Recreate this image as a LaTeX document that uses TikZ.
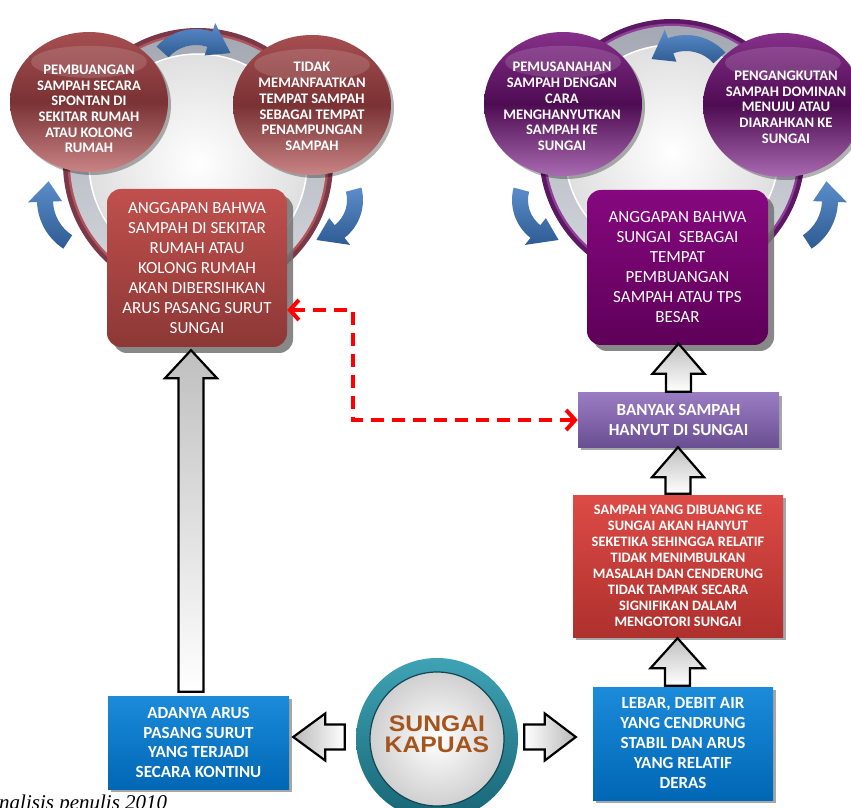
\documentclass[tikz,border=0pt]{standalone}
\usepackage{fontspec}
\newfontfamily\carl{Carlito}
\newfontfamily\arialf{Liberation Sans}
\newfontfamily\timesf{Liberation Serif}
\usetikzlibrary{shapes.geometric,arrows.meta,shadows,calc}
\definecolor{mAtop}{HTML}{A64E50}
\definecolor{mAmid}{HTML}{7A3234}
\definecolor{mAbot}{HTML}{C98486}
\definecolor{pBtop}{HTML}{86308A}
\definecolor{pBmid}{HTML}{4E0C52}
\definecolor{pBbot}{HTML}{A86AB0}
\definecolor{lboxTop}{HTML}{C0504D}
\definecolor{lboxBot}{HTML}{8C3836}
\definecolor{rboxTop}{HTML}{86087F}
\definecolor{rboxBot}{HTML}{5E0059}
\definecolor{banTop}{HTML}{9A7CC2}
\definecolor{banBot}{HTML}{6A4E92}
\definecolor{redTop}{HTML}{DD4B46}
\definecolor{redBot}{HTML}{AE302D}
\definecolor{bluTop}{HTML}{1B8BDA}
\definecolor{bluBot}{HTML}{0067B5}
\definecolor{ringA}{HTML}{7A3848}
\definecolor{ringAs}{HTML}{B0545A}
\definecolor{ringB}{HTML}{5C1862}
\definecolor{ringBs}{HTML}{8E3E96}
\definecolor{bandTop}{HTML}{A3A8B2}
\definecolor{bandBot}{HTML}{D6D8DE}
\definecolor{arrTop}{HTML}{5B8DCA}
\definecolor{arrBot}{HTML}{2E5B92}
\definecolor{tealTop}{HTML}{3FA3B5}
\definecolor{tealBot}{HTML}{176575}
\definecolor{kapuas}{HTML}{A5541C}
\definecolor{dashred}{HTML}{FF0000}

\newcommand{\curvarrow}[8]{%
 \pgfmathsetmacro\crOut{#3+#7/2}\pgfmathsetmacro\crIn{#3-#7/2}%
 \pgfmathsetmacro\chOut{#3+#8/2}\pgfmathsetmacro\chIn{#3-#8/2}%
 \begin{scope}[shift={(#1,#2)}]
 \shade[carrowsty] (#4:\crOut pt) arc[start angle=#4, end angle=#5, radius=\crOut pt]
   -- (#5:\chOut pt) -- (#6:#3pt) -- (#5:\chIn pt) -- (#5:\crIn pt)
   arc[start angle=#5, end angle=#4, radius=\crIn pt] -- cycle;
 \end{scope}}

\newcommand{\blockup}[7]{%
 \shadedraw[garrowv] let \p1=([xshift=#3]#1.north), \p2=([xshift=#3]#2.south) in
 ({\x1-12.5pt},{\y1+#4}) -- ({\x1+12.5pt},{\y1+#4}) -- ({\x1+12.5pt},{\y2-#5-#6})
 -- ({\x1+#7},{\y2-#5-#6}) -- (\x1,{\y2-#5}) -- ({\x1-#7},{\y2-#5-#6})
 -- ({\x1-12.5pt},{\y2-#5-#6}) -- cycle;}

\begin{document}
\begin{tikzpicture}[x=1pt,y=1pt,
 carrowsty/.style={top color=arrTop, bottom color=arrBot},
 garrowv/.style={top color=gray!50, bottom color=white, draw=black, line width=2.2pt, line join=miter},
 garrowl/.style={left color=gray!55, right color=white, draw=black, line width=2.2pt, line join=miter},
 garrowr/.style={left color=white, right color=gray!55, draw=black, line width=2.2pt, line join=miter},
 circA/.style={ellipse, minimum width=158pt, minimum height=140pt, inner sep=0pt,
   top color=mAtop, bottom color=mAbot, middle color=mAmid,
   drop shadow={shadow xshift=3pt,shadow yshift=-3pt,fill=black,opacity=.3}},
 circB/.style={ellipse, minimum width=158pt, minimum height=144pt, inner sep=0pt,
   top color=pBtop, bottom color=pBbot, middle color=pBmid,
   drop shadow={shadow xshift=3pt,shadow yshift=-3pt,fill=black,opacity=.3}},
 ctext/.style={text=white, align=center, inner sep=0pt, font=\carl\bfseries\fontsize{14.6}{15.7}\selectfont},
 bigbox/.style={rounded corners=14pt, minimum width=180pt, minimum height=156pt, inner sep=0pt,
   drop shadow={shadow xshift=6pt,shadow yshift=-6pt,fill=gray!90!black,opacity=.85},
   text=white, align=center, font=\carl\fontsize{17}{20}\selectfont},
 flatbox/.style={inner sep=0pt, text=white, align=center,
   drop shadow={shadow xshift=3pt,shadow yshift=-3pt,fill=black,opacity=.35}},
 dashconn/.style={dashred, line width=4pt, dash pattern=on 13pt off 8pt,
   {Straight Barb[length=9pt,width=20pt]}-{Straight Barb[length=9pt,width=20pt]}},
 gloss/.style={white, opacity=.14}
]
\useasboundingbox (0,0) rectangle (851,807);

% ---- left ring
\begin{scope}[shift={(198,644)}]
 \fill[ringA] (0,0) circle (135pt);
 \fill[ringAs] (0,0) circle (130.5pt);
 \shade[top color=bandTop, bottom color=bandBot] (0,0) circle (128pt);
 \shade[inner color=white, outer color=gray!25] (0,0) circle (109pt);
 \draw[white, line width=1.5pt] (0,0) circle (109pt);
\end{scope}
% ---- right ring
\begin{scope}[shift={(672,655)}]
 \fill[ringB] (0,0) circle (133pt);
 \fill[ringBs] (0,0) circle (128.5pt);
 \shade[top color=bandTop, bottom color=bandBot] (0,0) circle (126pt);
 \shade[inner color=white, outer color=gray!25] (0,0) circle (107pt);
 \draw[white, line width=1.5pt] (0,0) circle (107pt);
\end{scope}

% ---- curved arrows
\curvarrow{196}{725}{45}{138}{72}{40}{16}{34}
\curvarrow{95}{607}{50}{237}{182}{158}{16}{34}
\curvarrow{315}{607}{40}{15}{-52}{-88}{16}{34}
\curvarrow{686}{719}{45}{42}{110}{140}{16}{34}
\curvarrow{560}{607}{40}{165}{232}{268}{16}{34}
\curvarrow{780}{607}{50}{303}{358}{22}{16}{34}

% ---- circles
\node[circA] (A1) at (89,705) {};
\node[circA] (A2) at (312,702) {};
\node[circB] (B1) at (563,703) {};
\node[circB, minimum width=160pt] (B2) at (783,702) {};
\fill[gloss] ([yshift=-30pt]A1.north) ellipse [x radius=58pt, y radius=16pt];
\fill[gloss] ([yshift=-30pt]A2.north) ellipse [x radius=58pt, y radius=16pt];
\fill[gloss] ([yshift=-30pt]B1.north) ellipse [x radius=58pt, y radius=16pt];
\fill[gloss] ([yshift=-30pt]B2.north) ellipse [x radius=58pt, y radius=16pt];
\node[ctext] (A1t) at (89,698) {PEMBUANGAN\\SAMPAH SECARA\\SPONTAN DI\\SEKITAR RUMAH\\ATAU KOLONG\\RUMAH};
\node[ctext] (A2t) at (312,700.5) {TIDAK\\MEMANFAATKAN\\TEMPAT SAMPAH\\SEBAGAI TEMPAT\\PENAMPUNGAN\\SAMPAH};
\node[ctext] (B1t) at (562,700.5) {PEMUSANAHAN\\SAMPAH DENGAN\\CARA\\MENGHANYUTKAN\\SAMPAH KE\\SUNGAI};
\node[ctext] (B2t) at (786,700) {PENGANGKUTAN\\SAMPAH DOMINAN\\MENUJU ATAU\\DIARAHKAN KE\\SUNGAI};

% ---- big boxes
\node[bigbox, minimum height=158pt, top color=lboxTop, bottom color=lboxBot] (lbox) at (197,539)
 {ANGGAPAN BAHWA\\SAMPAH DI SEKITAR\\RUMAH ATAU\\KOLONG RUMAH\\AKAN DIBERSIHKAN\\ARUS PASANG SURUT\\SUNGAI};
\node[bigbox, minimum width=181pt, minimum height=155pt, top color=rboxTop, bottom color=rboxBot] (rbox) at (677.5,539.5)
 {ANGGAPAN BAHWA\\SUNGAI\ \ SEBAGAI\\TEMPAT\\PEMBUANGAN\\SAMPAH ATAU TPS\\BESAR};

% ---- right column boxes
\node[flatbox, minimum width=201pt, minimum height=54pt, top color=banTop, bottom color=banBot,
  font=\carl\bfseries\fontsize{17}{19.5}\selectfont] (banyak) at (678.5,387)
 {BANYAK SAMPAH\\HANYUT DI SUNGAI};
\node[flatbox, minimum width=210pt, minimum height=142pt, top color=redTop, bottom color=redBot,
  font=\carl\bfseries\fontsize{14.4}{16}\selectfont] (redbox) at (678,241)
 {SAMPAH YANG DIBUANG KE\\SUNGAI AKAN HANYUT\\SEKETIKA SEHINGGA RELATIF\\TIDAK MENIMBULKAN\\MASALAH DAN CENDERUNG\\TIDAK TAMPAK SECARA\\SIGNIFIKAN DALAM\\MENGOTORI SUNGAI};
\node[flatbox, minimum width=180pt, minimum height=113pt, top color=bluTop, bottom color=bluBot,
  font=\carl\bfseries\fontsize{17}{20}\selectfont] (rblue) at (683,63.5)
 {LEBAR, DEBIT AIR\\YANG CENDRUNG\\STABIL DAN ARUS\\YANG RELATIF\\DERAS};
\node[flatbox, minimum width=181pt, minimum height=93pt, top color=bluTop, bottom color=bluBot,
  font=\carl\bfseries\fontsize{17}{19.5}\selectfont] (lblue) at (198.5,64.5)
 {ADANYA ARUS\\PASANG SURUT\\YANG TERJADI\\SECARA KONTINU};

% ---- Sungai Kapuas
\node[circle, minimum size=162pt, inner sep=0pt, top color=tealTop, bottom color=tealBot,
  path picture={\shade[inner color=white, outer color=gray!45] (path picture bounding box.center) circle (67pt);
   \draw[tealBot!70!black, line width=1.2pt] (path picture bounding box.center) circle (67pt);}] (sungai) at (437,68) {};
\node[text=kapuas, align=center, inner sep=0pt, xscale=1.1, transform shape,
  font=\arialf\bfseries\fontsize{22.5}{21}\selectfont] (sungait)
  at ([yshift=5pt]sungai.center) {SUNGAI\\KAPUAS};

% ---- block arrows
\blockup{lblue}{lbox}{-7.5pt}{4pt}{3pt}{28pt}{26pt}
\blockup{banyak}{rbox}{0pt}{1pt}{-1.5pt}{30pt}{26pt}
\blockup{redbox}{banyak}{0pt}{1pt}{0pt}{30pt}{26pt}
\blockup{rblue}{redbox}{-5.5pt}{1pt}{1pt}{30pt}{27pt}

\shadedraw[garrowl] let \p1=(sungai.west), \p2=(lblue.east) in
 ({\x1-11pt},{\y1+14.5pt}) -- ({\x2+36pt},{\y1+14.5pt}) -- ({\x2+36pt},{\y1+25.5pt})
 -- ({\x2+4pt},{\y1+2pt}) -- ({\x2+36pt},{\y1-21.5pt}) -- ({\x2+36pt},{\y1-10.5pt})
 -- ({\x1-11pt},{\y1-10.5pt}) -- cycle;
\shadedraw[garrowr] let \p1=(sungai.east), \p2=(rblue.west) in
 ({\x1+6pt},{\y1+14.5pt}) -- ({\x2-48pt},{\y1+14.5pt}) -- ({\x2-48pt},{\y1+25.5pt})
 -- ({\x2-17pt},{\y1+2pt}) -- ({\x2-48pt},{\y1-21.5pt}) -- ({\x2-48pt},{\y1-10.5pt})
 -- ({\x1+6pt},{\y1-10.5pt}) -- cycle;

% ---- dashed connector
\draw[dashconn] ([yshift=-42pt]lbox.east) -- ++(66pt,0) |- (banyak.west);

% ---- caption
\node[anchor=base west, inner sep=0pt, font=\timesf\itshape\fontsize{21}{21}\selectfont] (src) at (-1,-2) {nalisis penulis 2010};
\end{tikzpicture}
\end{document}
